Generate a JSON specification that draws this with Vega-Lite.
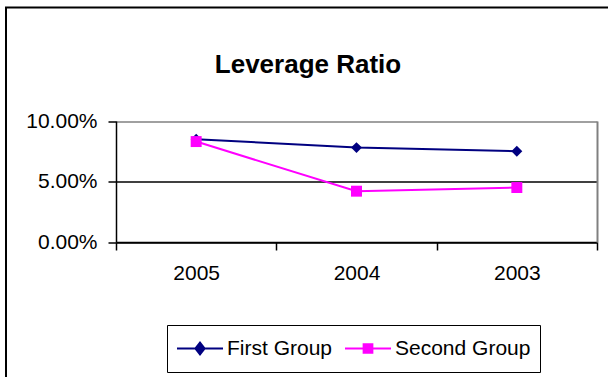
{
  "$schema": "https://vega.github.io/schema/vega-lite/v6.json",
  "width": 604,
  "height": 372,
  "autosize": {"type": "none"},
  "padding": {"left": 6, "top": 7.5, "right": 0, "bottom": 0},
  "background": "white",
  "config": {
    "view": {"stroke": "black", "strokeWidth": 2},
    "font": "Liberation Sans",
    "axis": {"labelFont": "Liberation Sans", "labelColor": "black", "domainColor": "black", "tickColor": "black", "title": null},
    "legend": {
      "title": null,
      "orient": "none",
      "legendX": 161,
      "legendY": 317.5,
      "direction": "horizontal",
      "columns": 2,
      "columnPadding": 11,
      "padding": 9,
      "strokeColor": "black",
      "fillColor": "white",
      "symbolSize": 2116,
      "symbolStrokeWidth": 2,
      "clipHeight": 29,
      "labelFontSize": 21,
      "labelFont": "Liberation Sans",
      "labelColor": "black",
      "labelOffset": 3,
      "symbolOpacity": 1
    }
  },
  "title": {
    "text": "Leverage Ratio",
    "font": "Liberation Sans",
    "fontSize": 26,
    "fontWeight": "bold",
    "color": "black",
    "anchor": "middle",
    "frame": "group",
    "baseline": "alphabetic",
    "offset": 0,
    "dy": 91.5
  },
  "data": {
    "values": [
      {"series": "First Group", "year": "2005", "ratio": 0.085},
      {"series": "First Group", "year": "2004", "ratio": 0.078},
      {"series": "First Group", "year": "2003", "ratio": 0.075},
      {"series": "Second Group", "year": "2005", "ratio": 0.083},
      {"series": "Second Group", "year": "2004", "ratio": 0.042},
      {"series": "Second Group", "year": "2003", "ratio": 0.045}
    ]
  },
  "encoding": {
    "x": {
      "field": "year",
      "type": "nominal",
      "bandPosition": 0.5,
      "scale": {"type": "band", "domain": ["2005", "2004", "2003"], "range": [110, 591], "paddingInner": 0, "paddingOuter": 0},
      "axis": {
        "orient": "bottom",
        "offset": -137.5,
        "tickBand": "extent",
        "labelFontSize": 21,
        "labelPadding": 12,
        "labelAngle": 0,
        "tickSize": 8,
        "tickWidth": 1.5,
        "domainWidth": 1.5,
        "grid": false,
        "title": null
      }
    },
    "y": {
      "field": "ratio",
      "type": "quantitative",
      "scale": {"domain": [0, 0.1], "range": [234.5, 113.5], "nice": false, "zero": true}
    }
  },
  "layer": [
    {
      "encoding": {
        "y": {
          "field": "ratio",
          "type": "quantitative",
          "axis": {
            "orient": "left",
            "offset": -110,
            "values": [0, 0.05, 0.1],
            "format": ".2%",
            "labelFontSize": 21,
            "labelPadding": 11,
            "tickSize": 8,
            "tickWidth": 1.5,
            "domainWidth": 1.5,
            "grid": true,
            "gridColor": {"condition": {"test": "datum.value >= 0.1", "value": "#808080"}, "value": "black"},
            "gridWidth": 1.5,
            "title": null
          }
        }
      },
      "layer": [
        {
          "mark": {"type": "line", "strokeWidth": 2},
          "encoding": {
            "color": {
              "field": "series",
              "type": "nominal",
              "scale": {"domain": ["First Group", "Second Group"], "range": ["#000080", "#FF00FF"]},
              "legend": null
            }
          }
        },
        {
          "mark": {"type": "point", "filled": true, "opacity": 1, "size": 120},
          "encoding": {
            "color": {
              "field": "series",
              "type": "nominal",
              "scale": {"domain": ["First Group", "Second Group"], "range": ["#000080", "#FF00FF"]},
              "legend": null
            },
            "shape": {
              "field": "series",
              "type": "nominal",
              "scale": {"domain": ["First Group", "Second Group"], "range": ["diamond", "square"]},
              "legend": null
            }
          }
        }
      ]
    },
    {
      "mark": {"type": "point", "filled": true, "opacity": 0},
      "encoding": {
        "y": {
          "field": "ratio",
          "type": "quantitative",
          "axis": {"orient": "right", "offset": -13, "domainColor": "#808080", "domainWidth": 2, "ticks": false, "labels": false, "grid": false, "title": null}
        },
        "fill": {
          "field": "series",
          "type": "nominal",
          "scale": {"domain": ["First Group", "Second Group"], "range": ["#000080", "#FF00FF"]}
        },
        "stroke": {
          "field": "series",
          "type": "nominal",
          "scale": {"domain": ["First Group", "Second Group"], "range": ["#000080", "#FF00FF"]}
        },
        "shape": {
          "field": "series",
          "type": "nominal",
          "scale": {"domain": ["First Group", "Second Group"], "range": ["M-1,0H1M0,-0.26L0.2,0L0,0.26L-0.2,0Z", "M-1,0H1M-0.19,-0.19H0.19V0.19H-0.19Z"]}
        }
      }
    }
  ],
  "resolve": {
    "scale": {"shape": "independent", "fill": "independent", "stroke": "independent"},
    "axis": {"y": "independent"}
  }
}
